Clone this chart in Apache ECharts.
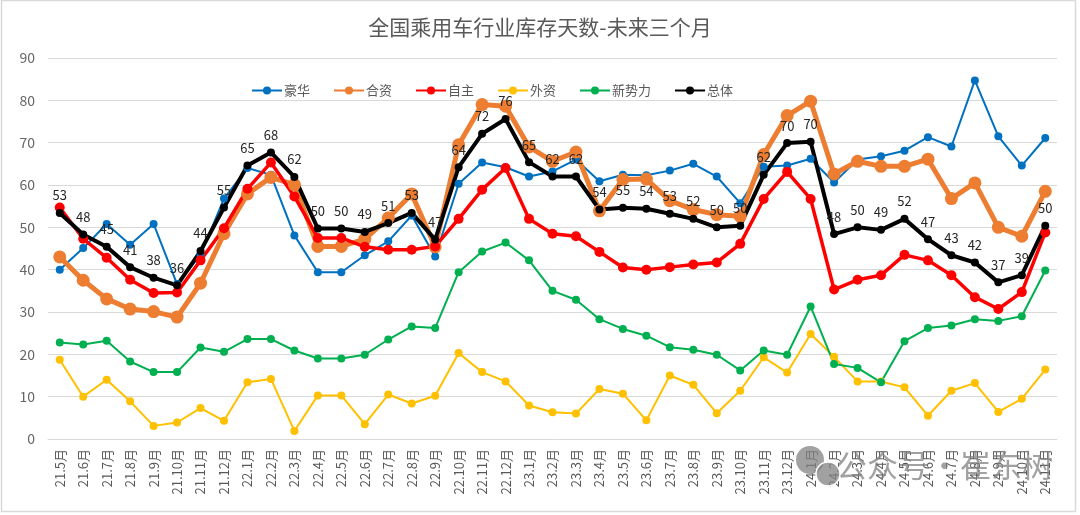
<!DOCTYPE html>
<html>
<head>
<meta charset="utf-8">
<script src="https://cdn.jsdelivr.net/npm/echarts@6/dist/echarts.min.js"></script>
<style>
html,body{margin:0;padding:0;background:#fff;}
#chart{width:1080px;height:515px;}
</style>
</head>
<body>
<div id="chart"></div>
<script>
var categories = ['21.5月','21.6月','21.7月','21.8月','21.9月','21.10月','21.11月','21.12月',
  '22.1月','22.2月','22.3月','22.4月','22.5月','22.6月','22.7月','22.8月','22.9月','22.10月','22.11月','22.12月',
  '23.1月','23.2月','23.3月','23.4月','23.5月','23.6月','23.7月','23.8月','23.9月','23.10月','23.11月','23.12月',
  '24.1月','24.2月','24.3月','24.4月','24.5月','24.6月','24.7月','24.8月','24.9月','24.10月','24.11月'];

var luxury = [40.0,45.1,50.8,45.9,50.8,36.6,43.5,56.8,64.0,62.4,48.1,39.4,39.4,43.4,46.7,52.8,43.1,60.3,65.3,64.2,
  62.0,63.2,66.0,60.9,62.4,62.3,63.4,65.0,62.0,55.7,64.3,64.6,66.2,60.6,66.0,66.8,68.1,71.3,69.1,84.7,71.5,64.6,71.1];
var jointVenture = [43.0,37.5,33.1,30.7,30.1,28.8,36.8,48.5,57.9,61.8,60.1,45.5,45.5,47.2,52.2,57.9,45.4,69.5,79.0,78.6,
  69.0,65.6,67.8,53.9,61.3,61.4,56.3,54.2,53.0,52.6,67.2,76.4,79.8,62.6,65.6,64.4,64.4,66.1,56.8,60.5,50.0,47.9,58.5];
var domestic = [54.7,47.3,42.8,37.6,34.5,34.6,42.2,49.8,59.1,65.3,57.3,47.5,47.5,45.4,44.7,44.7,45.5,52.0,58.9,64.0,
  52.0,48.5,47.9,44.2,40.5,40.0,40.6,41.2,41.7,46.1,56.7,63.1,56.7,35.3,37.6,38.7,43.5,42.2,38.7,33.5,30.7,34.7,48.8];
var foreign = [18.7,10.0,14.0,8.9,3.1,3.9,7.3,4.3,13.4,14.2,1.9,10.3,10.3,3.5,10.5,8.4,10.2,20.3,15.8,13.6,
  7.9,6.3,6.0,11.8,10.7,4.4,15.0,12.8,6.1,11.4,19.3,15.7,24.8,19.4,13.6,13.6,12.2,5.5,11.4,13.2,6.4,9.5,16.4];
var newForces = [22.8,22.3,23.2,18.3,15.8,15.8,21.6,20.6,23.6,23.6,20.9,19.0,19.0,19.9,23.5,26.6,26.2,39.4,44.3,46.4,
  42.2,35.0,32.9,28.3,26.0,24.4,21.7,21.1,19.9,16.2,20.9,19.9,31.3,17.7,16.8,13.4,23.1,26.2,26.8,28.3,27.9,29.0,39.8];
var overall = [53.4,48.3,45.4,40.6,38.1,36.3,44.4,54.7,64.6,67.7,61.9,49.7,49.7,48.9,51.0,53.4,47.1,64.2,72.1,75.6,
  65.4,62.0,62.0,54.2,54.6,54.4,53.2,52.0,50.0,50.4,62.4,69.9,70.2,48.4,50.0,49.4,52.0,47.2,43.4,41.7,37.0,38.7,50.4];

var seriesNames = ['豪华','合资','自主','外资','新势力','总体'];

var chart = echarts.init(document.getElementById('chart'), null, {renderer:'canvas'});
var font = '"Noto Sans CJK SC", "Microsoft YaHei", sans-serif';

function mk(name, data, color, lw, sym, extra) {
  var s = {
    name: name, type: 'line', data: data,
    symbol: 'circle', symbolSize: sym,
    lineStyle: {color: color, width: lw},
    itemStyle: {color: color},
    animation: false
  };
  if (extra) for (var k in extra) s[k] = extra[k];
  return s;
}

var option = {
  backgroundColor: '#fff',
  textStyle: {fontFamily: font},
  title: {
    text: '全国乘用车行业库存天数-未来三个月',
    left: 'center', top: 12,
    textStyle: {fontSize: 21, fontWeight: 'normal', color: '#595959', fontFamily: font}
  },
  legend: {
    left: 246, top: 79,
    itemWidth: 30, itemHeight: 10, itemGap: 23,
    textStyle: {fontSize: 13, color: '#595959', fontFamily: font, padding: [0,0,0,-3]},
    data: seriesNames
  },
  grid: {left: 48, right: 23, top: 58, bottom: 76},
  xAxis: {
    type: 'category', data: categories, boundaryGap: true,
    axisLine: {lineStyle: {color: '#d9d9d9'}},
    axisTick: {show: false},
    axisLabel: {rotate: 90, fontSize: 13, color: '#595959', margin: 10, interval: 0, fontFamily: font}
  },
  yAxis: {
    type: 'value', min: 0, max: 90, interval: 10,
    axisLine: {show: false}, axisTick: {show: false},
    axisLabel: {fontSize: 14, color: '#666666', margin: 13, fontFamily: font},
    splitLine: {lineStyle: {color: '#d9d9d9', width: 1}}
  },
  graphic: [
    {type: 'rect', shape: {x: 1.5, y: 0.5, width: 1074, height: 511}, style: {fill: 'none', stroke: '#d9d9d9', lineWidth: 1.5}, silent: true},
    {type: 'circle', shape: {cx: 810, cy: 460, r: 14}, style: {fill: 'rgba(130,130,130,0.75)'}, z: 100},
    {type: 'circle', shape: {cx: 828, cy: 474, r: 12}, style: {fill: 'rgba(130,130,130,0.75)', stroke: '#fff', lineWidth: 1.5}, z: 100},
    {type: 'text', left: 836, top: 450, z: 100,
     style: {text: '公众号·崔东树', fontSize: 31, fill: 'rgba(130,130,130,0.75)', fontFamily: font}}
  ],
  series: [
    mk('豪华', luxury, '#0070C0', 2, 8),
    mk('合资', jointVenture, '#ED7D31', 5, 13),
    mk('自主', domestic, '#FF0000', 3.5, 10),
    mk('外资', foreign, '#FFC000', 2, 8),
    mk('新势力', newForces, '#00B050', 2, 8),
    mk('总体', overall, '#000000', 4, 8, {
      label: {
        show: true, position: 'top', distance: 7,
        fontSize: 13, color: '#262626', fontFamily: font,
        formatter: function (p) { return Math.round(p.value); }
      }
    })
  ]
};
chart.setOption(option);
</script>
</body>
</html>
